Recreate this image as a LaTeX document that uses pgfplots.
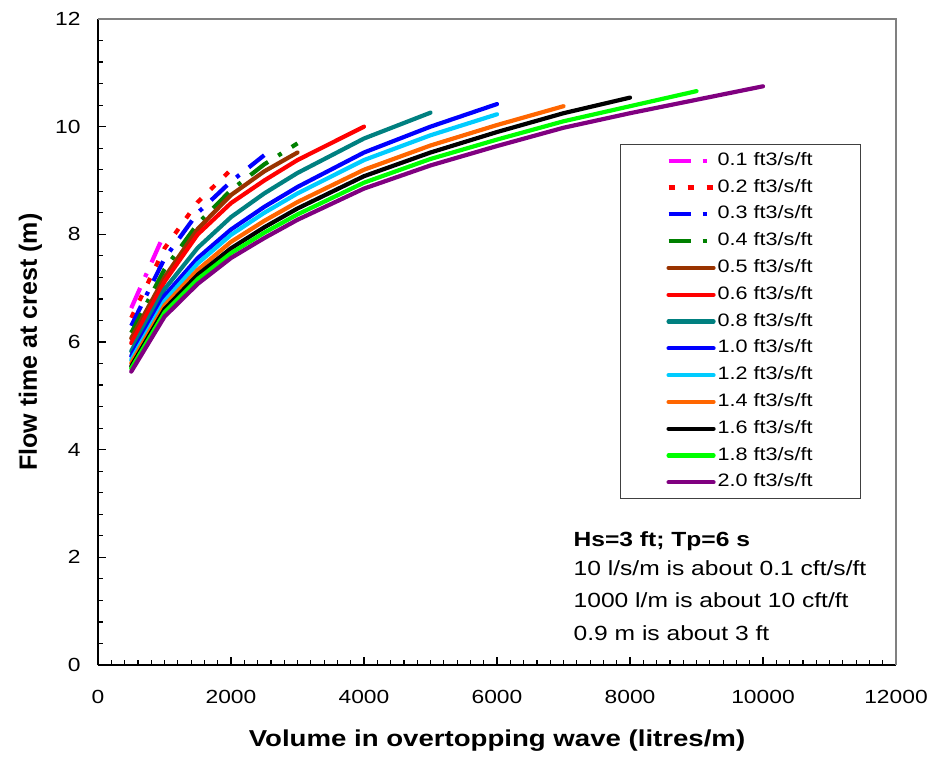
\documentclass[border=0pt]{standalone}
\usepackage{fontspec}
\setmainfont{Liberation Sans}[FakeStretch=1.2]
\newfontfamily\yfont{Liberation Sans}
\usepackage{pgfplots}
\pgfplotsset{compat=1.18}

\definecolor{cMag}{HTML}{FF00FF}
\definecolor{cRed}{HTML}{FF0000}
\definecolor{cBlue}{HTML}{0000FF}
\definecolor{cDGreen}{HTML}{008000}
\definecolor{cBrown}{HTML}{993300}
\definecolor{cTeal}{HTML}{008080}
\definecolor{cCyan}{HTML}{00CCFF}
\definecolor{cOrange}{HTML}{FF6600}
\definecolor{cLime}{HTML}{00FF00}
\definecolor{cPurple}{HTML}{800080}
\definecolor{cFrame}{HTML}{808080}

\pgfplotsset{
  solidln/.style={line width=4.2pt, line cap=round, line join=round},
  dashdot/.style={line width=4.2pt, line cap=butt, dash pattern=on 22pt off 12pt on 4pt off 12pt},
  sqdot/.style={line width=4.2pt, line cap=butt, dash pattern=on 6pt off 13pt},
}

\begin{document}
\begin{tikzpicture}
\begin{axis}[
  scale only axis, width=798pt, height=646pt,
  xmin=0, xmax=12000, ymin=0, ymax=12,
  xtick={0,2000,...,12000}, ytick={0,2,...,12},
  scaled x ticks=false,
  minor x tick num=9, minor y tick num=4,
  axis x line*=bottom, axis y line*=left,
  axis line style={-, line width=2pt, black},
  tick align=inside,
  major tick length=8pt, minor tick length=5.5pt,
  major tick style={line width=1.2pt, black},
  minor tick style={line width=1.2pt, black},
  /pgf/number format/assume math mode=true,
  /pgf/number format/1000 sep={},
  ticklabel style={font=\fontsize{19}{22}\selectfont},
  xticklabel style={yshift=-22pt},
  yticklabel style={xshift=-14pt},
  xlabel={Volume in overtopping wave (litres/m)},
  ylabel={Flow time at crest (m)},
  xlabel style={at={([yshift=-81.7pt]axis description cs:0.5,0)}, anchor=base,
    font=\fontsize{23}{28}\selectfont\bfseries},
  ylabel style={at={([xshift=-61pt]axis description cs:0,0.5)}, anchor=base,
    font=\yfont\fontsize{25}{30}\selectfont\bfseries},
  legend cell align=left,
  legend style={at={(0.6541,0.8065)}, anchor=north west, draw=black!75, line width=1pt,
    inner xsep=46pt, inner ysep=2.8pt, font=\fontsize{18}{21}\selectfont,
    nodes={inner xsep=2pt, inner ysep=4.9pt, text height=13pt, text depth=4pt}},
  legend image code/.code={\draw[#1] (0pt,0pt) -- (45pt,0pt);},
  clip=false,
]
\addplot[cMag, dashdot] coordinates {(500,6.63) (1000,8.02)};
\addlegendentry{0.1 ft3/s/ft}
\addplot[cRed, sqdot] coordinates {(500,6.45) (1000,7.74) (1500,8.60) (2000,9.20)};
\addlegendentry{0.2 ft3/s/ft}
\addplot[cBlue, dashdot] coordinates {(500,6.30) (1000,7.55) (1500,8.40) (2000,8.98) (2500,9.47)};
\addlegendentry{0.3 ft3/s/ft}
\addplot[cDGreen, dashdot] coordinates {(500,6.17) (1000,7.35) (1500,8.20) (2000,8.82) (2500,9.30) (3000,9.69)};
\addlegendentry{0.4 ft3/s/ft}
\addplot[cBrown, solidln] coordinates {(500,6.07) (1000,7.20) (1500,8.10) (2000,8.73) (2500,9.17) (3000,9.52)};
\addlegendentry{0.5 ft3/s/ft}
\addplot[cRed, solidln] coordinates {(500,5.98) (1000,7.12) (1500,8.00) (2000,8.58) (2500,9.00) (3000,9.38) (4000,10.00)};
\addlegendentry{0.6 ft3/s/ft}
\addplot[cTeal, solidln] coordinates {(500,5.83) (1000,6.98) (1500,7.75) (2000,8.32) (2500,8.76) (3000,9.14) (4000,9.78) (5000,10.26)};
\addlegendentry{0.8 ft3/s/ft}
\addplot[cBlue, solidln] coordinates {(500,5.74) (1000,6.86) (1500,7.56) (2000,8.09) (2500,8.51) (3000,8.88) (4000,9.52) (5000,10.00) (6000,10.42)};
\addlegendentry{1.0 ft3/s/ft}
\addplot[cCyan, solidln] coordinates {(500,5.67) (1000,6.76) (1500,7.46) (2000,7.99) (2500,8.40) (3000,8.76) (4000,9.38) (5000,9.84) (6000,10.23)};
\addlegendentry{1.2 ft3/s/ft}
\addplot[cOrange, solidln] coordinates {(500,5.61) (1000,6.68) (1500,7.34) (2000,7.86) (2500,8.25) (3000,8.60) (4000,9.20) (5000,9.65) (6000,10.03) (7000,10.38)};
\addlegendentry{1.4 ft3/s/ft}
\addplot[black, solidln] coordinates {(500,5.55) (1000,6.61) (1500,7.25) (2000,7.74) (2500,8.13) (3000,8.48) (4000,9.08) (5000,9.52) (6000,9.90) (7000,10.25) (8000,10.54)};
\addlegendentry{1.6 ft3/s/ft}
\addplot[cLime, solidln] coordinates {(500,5.51) (1000,6.55) (1500,7.17) (2000,7.65) (2500,8.03) (3000,8.37) (4000,8.96) (5000,9.40) (6000,9.76) (7000,10.10) (8000,10.38) (9000,10.66)};
\addlegendentry{1.8 ft3/s/ft}
\addplot[cPurple, solidln] coordinates {(500,5.45) (1000,6.47) (1500,7.08) (2000,7.56) (2500,7.93) (3000,8.27) (4000,8.85) (5000,9.28) (6000,9.64) (7000,9.98) (8000,10.25) (9000,10.50) (10000,10.75)};
\addlegendentry{2.0 ft3/s/ft}

\node[anchor=base west, font=\fontsize{20.5}{24}\selectfont\bfseries] at (axis cs:7100,2.21) {Hs=3 ft; Tp=6 s};
\node[anchor=base west, font=\fontsize{20.5}{24}\selectfont] at (axis cs:7100,1.67) {10 l/s/m is about 0.1 cft/s/ft};
\node[anchor=base west, font=\fontsize{20.5}{24}\selectfont] at (axis cs:7100,1.06) {1000 l/m is about 10 cft/ft};
\node[anchor=base west, font=\fontsize{20.5}{24}\selectfont] at (axis cs:7100,0.46) {0.9 m is about 3 ft};
\end{axis}
\draw[cFrame, line width=1.3pt] (current axis.north west) -- (current axis.north east) -- (current axis.south east);
\path ([xshift=-98pt,yshift=-91pt]current axis.south west) rectangle ([xshift=42pt,yshift=19pt]current axis.north east);
\end{tikzpicture}
\end{document}
